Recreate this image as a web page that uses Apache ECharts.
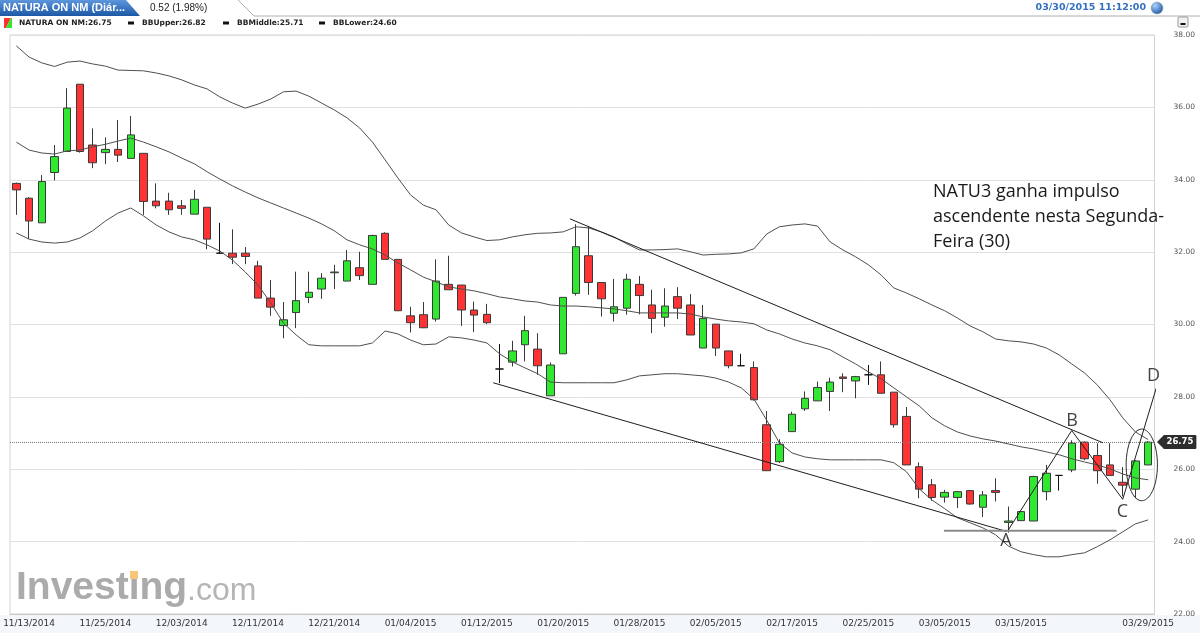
<!DOCTYPE html>
<html>
<head>
<meta charset="utf-8">
<script src="https://cdn.jsdelivr.net/npm/echarts@6/dist/echarts.min.js"></script>
<style>html,body{margin:0;padding:0;background:#fff}#c{width:1200px;height:633px}</style>
</head>
<body>
<div id="c"></div>
<script>
// ---------- DATA ----------
const dates = [
 '11/12/2014','11/13/2014','11/16/2014','11/17/2014','11/18/2014','11/23/2014','11/24/2014','11/25/2014','11/26/2014','11/27/2014',
 '11/30/2014','12/01/2014','12/02/2014','12/03/2014','12/04/2014','12/07/2014','12/08/2014','12/09/2014','12/10/2014','12/11/2014',
 '12/14/2014','12/15/2014','12/16/2014','12/17/2014','12/18/2014','12/21/2014','12/22/2014','12/25/2014','12/28/2014','12/29/2014',
 '01/01/2015','01/04/2015','01/05/2015','01/06/2015','01/07/2015','01/08/2015','01/11/2015','01/12/2015','01/13/2015','01/14/2015',
 '01/15/2015','01/18/2015','01/19/2015','01/20/2015','01/21/2015','01/22/2015','01/25/2015','01/26/2015','01/27/2015','01/28/2015',
 '01/29/2015','02/01/2015','02/02/2015','02/03/2015','02/04/2015','02/05/2015','02/08/2015','02/09/2015','02/10/2015','02/11/2015',
 '02/12/2015','02/17/2015','02/18/2015','02/19/2015','02/22/2015','02/23/2015','02/24/2015','02/25/2015','02/26/2015',
 '03/01/2015','03/02/2015','03/03/2015','03/04/2015','03/05/2015','03/08/2015','03/09/2015','03/10/2015','03/11/2015','03/12/2015',
 '03/15/2015','03/16/2015','03/17/2015','03/18/2015','03/19/2015','03/22/2015','03/23/2015','03/24/2015','03/25/2015','03/26/2015','03/29/2015'
];
const tickLabelIndex = [1,7,13,19,25,31,37,43,49,55,61,67,73,79,89];

const opens = [
 33.90,33.49,32.81,34.20,34.78,36.64,34.96,34.75,34.84,34.59,
 34.73,33.41,33.41,33.28,33.05,33.24,31.97,31.97,31.97,31.62,
 30.73,29.97,30.33,30.75,30.98,31.43,31.20,31.57,31.11,32.52,
 31.80,30.24,30.27,30.15,31.11,31.09,30.40,30.28,28.77,28.96,
 29.44,29.32,28.03,29.19,30.86,31.90,31.16,30.31,30.45,31.11,
 30.54,30.20,30.77,30.54,29.35,30.01,29.27,28.86,28.81,27.23,
 26.21,27.04,27.67,27.89,28.15,28.55,28.44,28.61,28.61,
 28.13,27.46,26.07,25.57,25.23,25.22,25.41,24.95,25.41,24.53,
 24.58,24.57,25.38,25.83,25.98,26.75,26.38,26.12,25.64,25.45,26.12
];
const closes = [
 33.72,32.86,33.95,34.64,35.98,34.78,34.47,34.84,34.68,35.24,
 33.40,33.28,33.17,33.21,33.46,32.36,31.97,31.86,31.88,30.73,
 30.48,30.13,30.66,30.89,31.28,31.45,31.76,31.35,32.46,31.80,
 30.38,30.05,29.91,31.20,30.96,30.40,30.26,30.05,28.77,29.27,
 29.83,28.86,28.88,30.75,32.15,31.16,30.71,30.49,31.25,30.80,
 30.17,30.51,30.45,29.71,30.17,29.35,28.86,28.86,27.92,25.96,
 26.69,27.52,27.96,28.26,28.41,28.51,28.56,28.61,28.10,
 27.23,26.12,25.45,25.22,25.36,25.38,25.04,25.29,25.36,24.57,
 24.83,25.80,25.89,25.83,26.72,26.29,25.96,25.83,25.56,26.23,26.75
];
const lows = [
 33.03,32.36,32.81,33.98,34.78,34.75,34.32,34.43,34.49,34.59,
 33.03,33.21,33.03,33.03,33.05,32.08,31.97,31.67,31.67,30.73,
 30.24,29.62,29.90,30.59,30.71,30.98,31.20,31.23,31.11,31.80,
 30.38,29.78,29.90,30.08,30.96,29.96,29.79,30.01,28.38,28.84,
 28.98,28.61,28.03,29.19,30.80,30.82,30.22,30.08,30.27,30.28,
 29.76,29.94,30.15,29.71,29.35,29.13,28.79,28.86,27.90,25.96,
 26.17,27.04,27.61,27.89,27.61,28.13,27.96,28.33,28.10,
 27.15,26.12,25.20,25.13,25.08,24.93,25.02,24.68,25.11,24.25,
 24.58,24.57,25.14,25.41,25.92,26.25,25.60,25.83,25.25,25.20,26.12
];
const highs = [
 33.92,33.52,34.13,34.96,36.53,36.64,35.42,35.17,35.65,35.76,
 34.73,33.90,33.64,33.44,33.72,33.24,32.81,32.63,32.14,31.76,
 31.23,30.62,31.46,31.46,31.42,31.65,32.06,32.01,32.48,32.55,
 31.80,30.49,30.62,31.80,31.90,31.09,30.63,30.57,29.46,29.55,
 30.24,29.76,28.95,30.76,32.77,32.72,31.16,31.26,31.40,31.34,
 30.96,31.00,31.03,30.84,30.54,30.01,29.27,29.19,28.98,27.61,
 26.83,27.59,28.15,28.42,28.53,28.65,28.58,28.88,28.98,
 28.13,27.72,26.19,25.73,25.43,25.40,25.43,25.40,25.75,24.97,
 24.85,25.82,26.12,25.83,26.80,26.77,26.72,26.72,26.06,26.25,26.78
];
const bbUpper = [
 37.70,37.39,37.23,37.13,37.25,37.28,37.20,37.14,37.03,37.02,
 37.01,36.95,36.87,36.76,36.62,36.51,36.29,36.12,35.98,36.09,
 36.23,36.43,36.45,36.31,36.12,35.93,35.71,35.43,35.04,34.55,
 34.05,33.58,33.30,33.17,32.75,32.53,32.42,32.32,32.34,32.42,
 32.48,32.52,32.53,32.56,32.70,32.67,32.56,32.42,32.23,32.06,
 32.06,32.07,32.09,32.01,31.92,31.94,31.95,31.98,32.09,32.50,
 32.70,32.75,32.78,32.72,32.28,32.06,31.87,31.65,31.37,
 31.01,30.87,30.71,30.54,30.38,30.18,29.96,29.80,29.60,29.55,
 29.52,29.46,29.35,29.16,28.91,28.66,28.33,27.92,27.42,27.03,26.82
];
const bbMiddle = [
 35.04,34.82,34.74,34.71,34.80,34.82,34.91,34.98,35.07,35.15,
 35.04,34.91,34.77,34.60,34.44,34.22,34.02,33.83,33.66,33.50,
 33.36,33.22,33.08,32.94,32.78,32.59,32.34,32.20,32.09,31.92,
 31.70,31.51,31.31,31.18,31.04,30.98,30.93,30.85,30.76,30.71,
 30.65,30.62,30.54,30.51,30.51,30.49,30.46,30.43,30.38,30.32,
 30.32,30.32,30.32,30.29,30.21,30.15,30.10,30.07,30.02,29.85,
 29.74,29.60,29.49,29.41,29.30,29.10,28.91,28.69,28.50,
 28.25,28.00,27.75,27.42,27.20,27.03,26.92,26.84,26.78,26.70,
 26.62,26.56,26.48,26.40,26.29,26.20,26.12,26.01,25.87,25.76,25.71
];
const bbLower = [
 32.53,32.36,32.28,32.25,32.28,32.39,32.59,32.86,33.08,33.22,
 33.00,32.75,32.56,32.42,32.34,32.20,32.03,31.78,31.45,31.09,
 30.60,30.04,29.71,29.44,29.41,29.41,29.41,29.41,29.49,29.82,
 29.74,29.57,29.44,29.46,29.66,29.63,29.57,29.49,29.19,28.97,
 28.80,28.64,28.41,28.39,28.39,28.39,28.39,28.39,28.47,28.58,
 28.61,28.64,28.64,28.61,28.58,28.52,28.41,28.25,27.94,27.36,
 26.73,26.45,26.34,26.29,26.26,26.26,26.26,26.26,26.26,
 26.18,25.93,25.46,25.15,24.91,24.66,24.52,24.38,24.19,23.88,
 23.72,23.64,23.58,23.58,23.64,23.69,23.86,24.05,24.27,24.49,24.60
];
const yMin = 22, yMax = 38, yStep = 2;
const lastPrice = 26.75;
const legendItems = ['NATURA ON NM:26.75', 'BBUpper:26.82', 'BBMiddle:25.71', 'BBLower:24.60'];

// drawn annotations, as [candle index, price]
const trendUpper = [[43.53, 32.92], [85.45, 26.73]];
const trendLower = [[37.50, 28.39], [77.88, 24.28]];
const supportLine = [[72.94, 24.30], [86.52, 24.30]];
const abcdPath = [[78.00, 24.32], [82.99, 27.07], [87.00, 25.17], [89.67, 28.28]];
const abcdNames = ['A', 'B', 'C', 'D'];
const abcdLabelPos = [[77.82, 24.02], [83.01, 27.33], [86.98, 24.81], [89.42, 28.58]];
const ellipseMark = [88.5, 26.12, 1.23, 0.99];
const noteLines = ['NATU3 ganha impulso', 'ascendente nesta Segunda-', 'Feira (30)'];

// ---------- CHART ----------
const chart = echarts.init(document.getElementById('c'), null, {renderer: 'canvas'});
const candles = dates.map((d, i) => [opens[i], closes[i], lows[i], highs[i]]);
const RED = '#ff3333', GREEN = '#30e830';

const graphics = [
  // x-axis label band
  {type: 'rect', z: -5, shape: {x: 0, y: 615, width: 1200, height: 18}, style: {fill: '#f3f6fa'}},
  // header tab
  {type: 'polygon', shape: {points: [[0,0],[126,0],[140,16],[0,16]]},
   style: {fill: new echarts.graphic.LinearGradient(0,0,0,1,[{offset:0,color:'#5c97dc'},{offset:1,color:'#1d58a6'}])}},
  {type: 'text', x: 3, y: 8, style: {text: 'NATURA ON NM (Diár...', fill: '#fff', font: 'bold 11px "Liberation Sans", Arial, sans-serif', verticalAlign: 'middle'}},
  {type: 'text', x: 150, y: 8, style: {text: '0.52 (1.98%)', fill: '#222', font: '10px "Liberation Sans", Arial, sans-serif', verticalAlign: 'middle'}},
  {type: 'polyline', shape: {points: [[238,0],[254,16],[1200,16]]}, style: {stroke: '#b0b0b0', lineWidth: 1, fill: null}},
  {type: 'text', x: 1146, y: 8, style: {text: '03/30/2015 11:12:00', fill: '#3470c0', font: 'bold 9.5px "DejaVu Sans", Verdana, sans-serif', align: 'right', verticalAlign: 'middle'}},
  {type: 'circle', shape: {cx: 1157, cy: 8, r: 6},
   style: {fill: new echarts.graphic.RadialGradient(0.35,0.3,0.8,[{offset:0,color:'#a9d2ff'},{offset:1,color:'#1b4d9a'}]), stroke: '#8aa', lineWidth: 0.5}},
  // minimize button
  {type: 'rect', shape: {x: 1178, y: 17, width: 10, height: 10, r: 1}, style: {fill: '#f2f2f2', stroke: '#999', lineWidth: 1}},
  {type: 'rect', shape: {x: 1180.5, y: 23, width: 5, height: 2}, style: {fill: '#111'}},
  // legend
  {type: 'polygon', shape: {points: [[4,18],[11,18],[6,28],[4,28]]}, style: {fill: RED}},
  {type: 'polygon', shape: {points: [[11,18],[12,18],[12,28],[6,28]]}, style: {fill: GREEN}},
  {type: 'text', x: 19, y: 23, style: {text: legendItems[0], fill: '#222', font: 'bold 7.5px "DejaVu Sans", Verdana, sans-serif', verticalAlign: 'middle'}},
  {type: 'rect', shape: {x: 128, y: 21.5, width: 6, height: 3}, style: {fill: '#111'}},
  {type: 'text', x: 142, y: 23, style: {text: legendItems[1], fill: '#222', font: 'bold 7.5px "DejaVu Sans", Verdana, sans-serif', verticalAlign: 'middle'}},
  {type: 'rect', shape: {x: 223, y: 21.5, width: 6, height: 3}, style: {fill: '#111'}},
  {type: 'text', x: 237, y: 23, style: {text: legendItems[2], fill: '#222', font: 'bold 7.5px "DejaVu Sans", Verdana, sans-serif', verticalAlign: 'middle'}},
  {type: 'rect', shape: {x: 319, y: 21.5, width: 6, height: 3}, style: {fill: '#111'}},
  {type: 'text', x: 333, y: 23, style: {text: legendItems[3], fill: '#222', font: 'bold 7.5px "DejaVu Sans", Verdana, sans-serif', verticalAlign: 'middle'}},
  // watermark logo
  {type: 'text', z: -2, x: 16, y: 588, style: {text: 'Investing', fill: '#ababab', font: 'bold 39px "Liberation Sans", Arial, sans-serif', verticalAlign: 'middle'}},
  {type: 'rect', z: -1, shape: {x: 130, y: 571, width: 8, height: 8}, style: {fill: '#f6c77a'}},
  {type: 'text', z: -2, x: 187, y: 591, style: {text: '.com', fill: '#b5b5b5', font: '32px "Liberation Sans Narrow", "Liberation Sans", Arial, sans-serif', verticalAlign: 'middle'}},
  // price tag arrow
  {type: 'polygon', z: 10, shape: {points: [[1157,442],[1164,435],[1164,449]]}, style: {fill: '#2d2d2d'}}
];
noteLines.forEach((t, k) => graphics.push({
  type: 'text', x: 933, y: 192 + k * 25,
  style: {text: t, fill: '#1a1a1a', font: '18px "Open Sans", sans-serif', verticalAlign: 'middle'}
}));

const annoLine = (data, color, width) => ({
  type: 'line', xAxisIndex: 1, yAxisIndex: 0, data: data, clip: false,
  symbol: 'none', silent: true, z: 6,
  lineStyle: {color: color, width: width}
});
const bandLine = (data) => ({
  type: 'line', xAxisIndex: 0, yAxisIndex: 0, data: data, symbol: 'none', silent: true, z: 5,
  lineStyle: {color: '#4f4f4f', width: 1}
});

const option = {
  animation: false,
  backgroundColor: '#fff',
  grid: {left: 10, right: 45.5, top: 35, bottom: 19, show: true, borderColor: '#d2d2d2', borderWidth: 1, outerBoundsMode: 'none', containLabel: false},
  xAxis: [
    {type: 'category', data: dates, boundaryGap: true,
     axisLine: {show: true, lineStyle: {color: '#c8c8c8'}}, axisTick: {show: false},
     splitLine: {show: false},
     axisLabel: {interval: (idx) => tickLabelIndex.indexOf(idx) >= 0, color: '#333', fontSize: 9,
                 fontFamily: '"DejaVu Sans", Verdana, sans-serif', margin: 5, hideOverlap: false}},
    {type: 'value', min: -0.5, max: dates.length - 0.5, show: false}
  ],
  yAxis: [{
    type: 'value', position: 'right', min: yMin, max: yMax, interval: yStep, scale: false,
    axisLine: {show: false}, axisTick: {show: false},
    splitLine: {show: true, lineStyle: {color: '#e0e0e0', width: 1}},
    axisLabel: {formatter: v => v.toFixed(2), color: '#555', fontSize: 7.5,
                fontFamily: '"DejaVu Sans", Verdana, sans-serif', margin: 19}
  }],
  graphic: {elements: graphics},
  series: [
    {
      type: 'candlestick', xAxisIndex: 0, yAxisIndex: 0, data: candles, barWidth: 8, z: 4,
      itemStyle: {color: GREEN, color0: RED, borderColor: '#3a3a3a', borderColor0: '#3a3a3a',
                  borderColorDoji: '#111', borderWidth: 1},
      markLine: {
        silent: true, symbol: 'none', animation: false,
        lineStyle: {type: 'dotted', color: '#777', width: 1},
        label: {show: true, position: 'end', distance: 9, formatter: () => lastPrice.toFixed(2),
                backgroundColor: '#2d2d2d', color: '#fff', fontSize: 8.5, fontWeight: 'bold',
                fontFamily: '"DejaVu Sans", Verdana, sans-serif', padding: [3, 3, 2, 3], borderRadius: 1},
        data: [{yAxis: lastPrice}]
      }
    },
    bandLine(bbUpper),
    bandLine(bbMiddle),
    bandLine(bbLower),
    annoLine(trendUpper, '#1e1e1e', 1),
    annoLine(trendLower, '#1e1e1e', 1),
    annoLine(supportLine, '#8a8a8a', 2),
    annoLine(abcdPath, '#1e1e1e', 1),
    {
      type: 'custom', xAxisIndex: 1, yAxisIndex: 0, clip: false, silent: true, z: 6,
      data: [ellipseMark],
      renderItem: function (params, api) {
        const c = api.coord([api.value(0), api.value(1)]);
        const s = api.size([api.value(2), api.value(3)]);
        const pts = [];
        for (let k = 0; k <= 90; k++) {
          const t = k / 90 * Math.PI * 2;
          pts.push([c[0] + s[0] * Math.cos(t), c[1] + s[1] * Math.sin(t)]);
        }
        return {type: 'polyline', shape: {points: pts}, style: {fill: null, stroke: '#2a2a2a', lineWidth: 1}};
      }
    },
    {
      type: 'scatter', xAxisIndex: 1, yAxisIndex: 0, symbolSize: 0, silent: true, z: 7, clip: false,
      data: abcdNames.map((n, i) => ({name: n, value: abcdLabelPos[i]})),
      label: {show: true, position: 'inside', formatter: '{b}', color: '#111', fontSize: 18,
              fontFamily: '"Open Sans", sans-serif'}
    }
  ]
};
chart.setOption(option);
</script>
</body>
</html>
